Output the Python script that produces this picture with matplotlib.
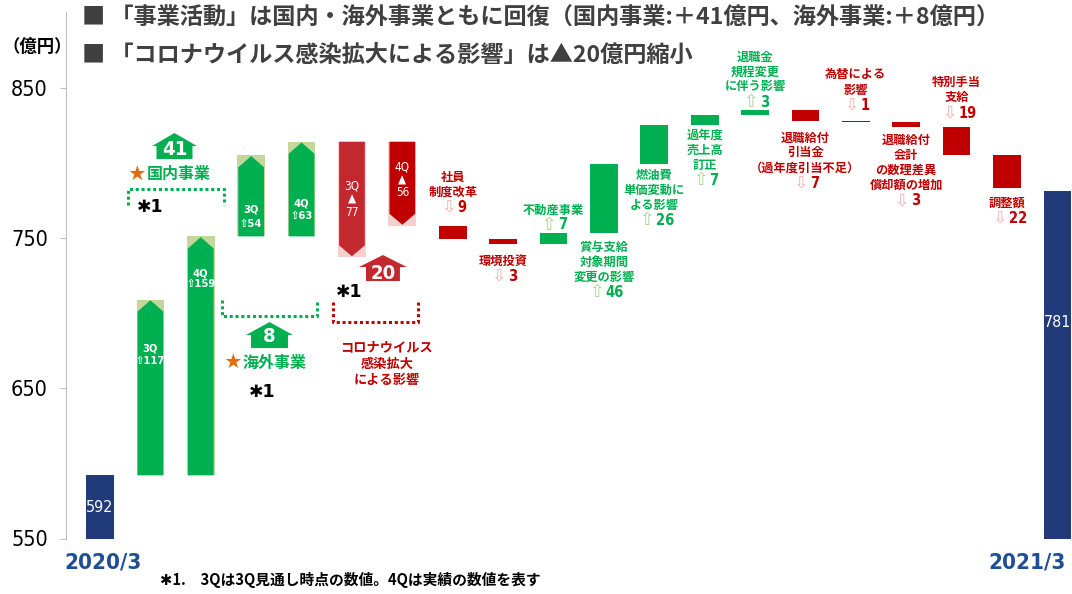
import matplotlib.pyplot as plt
from matplotlib import font_manager as fm
from matplotlib.patches import Polygon

plt.rcParams['font.family'] = ['Noto Sans CJK JP', 'DejaVu Sans']

# 数字用に細めの書体があれば使う
_narrow = [(f.name, f.stretch) for f in fm.fontManager.ttflist
           if 'Narrow' in f.name or 'Condensed' in f.name or 'condensed' in str(f.stretch)]
if _narrow:
    NUM = dict(family=[_narrow[0][0], 'DejaVu Sans'], fontstretch=_narrow[0][1])
    SCALE = 1.0
else:
    NUM = dict(family=['DejaVu Sans'])
    SCALE = 0.82

# 経常利益の増減要因（億円）
start_val = 592
end_val = 781
dom_q = [117, 159]    # 国内事業 3Q見通し / 4Q実績
ovs_q = [54, 63]      # 海外事業 3Q見通し / 4Q実績
cov_q = [-77, -56]    # コロナ影響 3Q見通し / 4Q実績
dom_diff, ovs_diff, cov_diff = 41, 8, 20
item_labels = ['社員\n制度改革', '環境投資', '不動産事業', '賞与支給\n対象期間\n変更の影響',
               '燃油費\n単価変動に\nよる影響', '過年度\n売上高\n訂正', '退職金\n規程変更\nに伴う影響',
               '退職給付\n引当金\n（過年度引当不足）', '為替による\n影響',
               '退職給付\n会計\nの数理差異\n償却額の増加', '特別手当\n支給', '調整額']
item_deltas = [-9, -3, 7, 46, 26, 7, 3, -7, -1, -3, -19, -22]
label_y = [790.5, 734.6, 768.6, 743.9, 791.8, 818.5, 870.4, 816.5, 858.4, 815.1, 853.1, 773.2]
ticks = [550, 650, 750, 850]

GREEN = '#00B050'
GREEN_BG = '#C4D79B'
RED = '#C00000'
RED2 = '#C3282E'
PINK = '#F6CFCF'
NAVY = '#213A7A'
W = 0.55

fig = plt.figure(figsize=(10.72, 5.94), dpi=100)
ax = fig.add_axes([66 / 1072, 1 - 538.5 / 594, 1 - 66 / 1072, (538.5 - 12) / 594])
ax.set_xlim(-0.675, 19.29)
ax.set_ylim(550, 900.3)


def up_bar(i, base, h, text_lines, ys):
    top = base + h
    ax.bar(i, h, bottom=base, width=W, color=GREEN_BG)
    d = 0.02
    pts = [(i - W / 2 + d, base), (i + W / 2 - d, base), (i + W / 2 - d, top - 8),
           (i, top - 0.5), (i - W / 2 + d, top - 8)]
    ax.add_patch(Polygon(pts, closed=True, color=GREEN, lw=0))
    for t, y in zip(text_lines, ys):
        ax.text(i, y, t, ha='center', va='center', color='white', fontsize=8 * SCALE,
                fontweight='bold', **NUM)


def down_bar(i, base, h, color, text_lines, ys):
    bot = base + h
    ax.bar(i, h, bottom=base, width=W, color=PINK)
    d = 0.02
    pts = [(i - W / 2 + d, base), (i + W / 2 - d, base), (i + W / 2 - d, bot + 8),
           (i, bot + 0.8), (i - W / 2 + d, bot + 8)]
    ax.add_patch(Polygon(pts, closed=True, color=color, lw=0))
    for t, y in zip(text_lines, ys):
        ax.text(i, y, t, ha='center', va='center', color='white', fontsize=8.5 * SCALE, **NUM)


def block_arrow(cx, body, head, yb, ys, yt, color, text, ty):
    pts = [(cx - body, yb), (cx + body, yb), (cx + body, ys), (cx + head, ys),
           (cx, yt), (cx - head, ys), (cx - body, ys)]
    ax.add_patch(Polygon(pts, closed=True, color=color, lw=0))
    ax.text(cx, ty, text, ha='center', va='center', color='white', fontsize=14.5 * SCALE,
            fontweight='bold', **NUM)


def bracket(x0, x1, y_line, y_end, color):
    ax.plot([x0, x0, x1, x1], [y_end, y_line, y_line, y_end], color=color, lw=2.2,
            ls=(0, (1, 0.9)), dash_capstyle='butt')


def step_label(i, y0, text, val, color, acolor, dy=10):
    lines = text.split('\n')
    for k, line in enumerate(lines):
        ax.text(i, y0 - k * dy, line, ha='center', va='center', color=color,
                fontsize=8.8, fontweight='bold')
    yv = y0 - len(lines) * dy
    num = str(abs(val))
    off = (11 - 6 * len(num)) / 2 * 0.72
    ax.annotate('⇧' if val > 0 else '⇩', (i, yv), xytext=(off, 0), textcoords='offset points',
                ha='right', va='center', color=acolor, fontsize=12.5, family='DejaVu Sans')
    ax.annotate(num, (i, yv), xytext=(off + 1.5, 0), textcoords='offset points',
                ha='left', va='center', color=color, fontsize=10.5 * SCALE, fontweight='bold', **NUM)


# 期首・期末
ax.bar(0, start_val, width=W, color=NAVY)
ax.bar(19, end_val, width=W, color=NAVY)
ax.text(0, 570.3, str(start_val), ha='center', va='center', color='white', fontsize=11.5 * SCALE, **NUM)
ax.text(19, 693.4, str(end_val), ha='center', va='center', color='white', fontsize=11.5 * SCALE, **NUM)

# 国内・海外事業（3Q見通し / 4Q実績）
up_bar(1, start_val, dom_q[0], ['3Q', '⇧' + str(dom_q[0])], [676.7, 668])
up_bar(2, start_val, dom_q[1], ['4Q', '⇧' + str(dom_q[1])], [726.6, 719.3])
base = start_val + dom_q[1]
up_bar(3, base, ovs_q[0], ['3Q', '⇧' + str(ovs_q[0])], [768.6, 759.2])
up_bar(4, base, ovs_q[1], ['4Q', '⇧' + str(ovs_q[1])], [773.2, 764.6])
base = base + ovs_q[1]
down_bar(5, base, cov_q[0], RED2, ['3Q', '▲', str(-cov_q[0])], [784.5, 775.9, 767.2])
down_bar(6, base, cov_q[1], RED, ['4Q', '▲', str(-cov_q[1])], [797.2, 788.5, 779.9])
level = base + cov_q[1]

# 個別要因
for k, (lab, dv) in enumerate(zip(item_labels, item_deltas)):
    i = 7 + k
    c = GREEN if dv > 0 else RED
    ax.bar(i, dv, bottom=level, width=W, color=c)
    step_label(i, label_y[k], lab, dv, c, '#A9D08E' if dv > 0 else '#F4AFAF')
    level += dv

# 3Q見通しからの差分
block_arrow(1.478, 0.357, 0.446, 802.5, 811.1, 819.8, GREEN, str(dom_diff), 809)
block_arrow(3.363, 0.367, 0.466, 676.7, 685.4, 694.0, GREEN, str(ovs_diff), 684.5)
block_arrow(5.615, 0.337, 0.476, 721.3, 730.6, 738.6, RED2, str(cov_diff), 726.5)

bracket(0.556, 2.46, 782.5, 771.8, GREEN)
bracket(2.421, 4.306, 698.0, 708.7, GREEN)
bracket(4.623, 6.31, 694.0, 707.4, RED)

ax.text(0.734, 792.5, '★', ha='center', va='center', color='#E46C0A', fontsize=12)
ax.text(0.92, 792.5, '国内事業', ha='left', va='center', color=GREEN, fontsize=11.5, fontweight='bold')
ax.text(2.64, 666.8, '★', ha='center', va='center', color='#E46C0A', fontsize=12)
ax.text(2.83, 666.8, '海外事業', ha='left', va='center', color=GREEN, fontsize=11.5, fontweight='bold')
for x, y in [(0.99, 770.6), (3.214, 647.5), (4.94, 714.0)]:
    ax.text(x, y, '✱1', ha='center', va='center', color='black', fontsize=12.5,
            fontweight='bold', family=['DejaVu Sans'])
for k, t in enumerate(['コロナウイルス', '感染拡大', 'による影響']):
    ax.text(5.694, 677.4 - k * 10.9, t, ha='center', va='center', color=RED, fontsize=9.5,
            fontweight='bold')

# 軸
for s in ['top', 'right', 'bottom']:
    ax.spines[s].set_visible(False)
ax.spines['left'].set_color('#BFBFBF')
ax.set_xticks([])
ax.set_yticks(ticks)
ax.set_yticklabels([str(t) for t in ticks], fontsize=15.5 * SCALE, **NUM)
ax.tick_params(axis='y', length=4, color='#BFBFBF', pad=9)


# 見出し・注記
def ftext(px, py, s, **kw):
    fig.text(px / 1072, 1 - py / 594, s, va='center', **kw)


ftext(82, 18, '■ 「事業活動」は国内・海外事業ともに回復（国内事業:＋41億円、海外事業:＋8億円）',
      color='#404040', fontsize=16.7, fontweight='bold')
ftext(82, 55, '■ 「コロナウイルス感染拡大による影響」は▲20億円縮小',
      color='#404040', fontsize=16.7, fontweight='bold')
ftext(3, 47, '（億円）', color='black', fontsize=12.5, fontweight='bold')
ftext(103, 563, '2020/3', ha='center', color='#1F4E96', fontsize=16 * SCALE, fontweight='bold', **NUM)
ftext(1066, 563, '2021/3', ha='right', color='#1F4E96', fontsize=16 * SCALE, fontweight='bold', **NUM)
ftext(160, 580, '✱1.　3Qは3Q見通し時点の数値。4Qは実績の数値を表す', color='black',
      fontsize=10.6, fontweight='bold')

fig.savefig('out.png', dpi=100)
